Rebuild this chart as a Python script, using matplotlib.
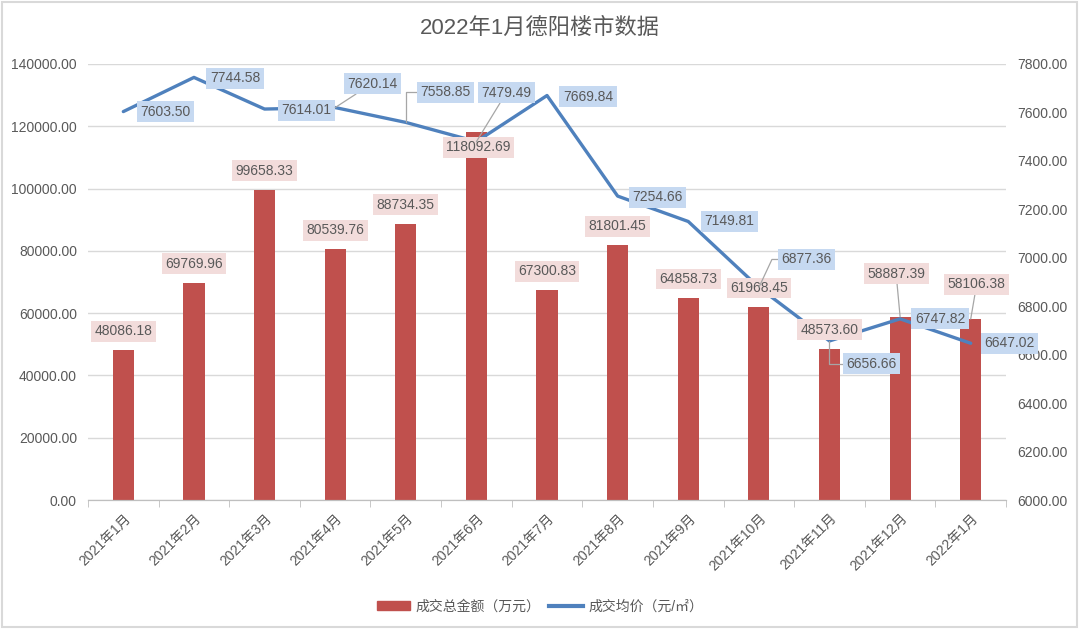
import matplotlib
matplotlib.use('Agg')
import matplotlib.pyplot as plt
from matplotlib.patches import Rectangle
from matplotlib.lines import Line2D
from matplotlib.ticker import FormatStrFormatter, MultipleLocator, FixedLocator

plt.rcParams['font.family'] = ['Liberation Sans', 'Noto Sans CJK SC', 'DejaVu Sans']

# data
months = ['2021年1月', '2021年2月', '2021年3月', '2021年4月', '2021年5月', '2021年6月',
          '2021年7月', '2021年8月', '2021年9月', '2021年10月', '2021年11月', '2021年12月',
          '2022年1月']
total_amount = [48086.18, 69769.96, 99658.33, 80539.76, 88734.35, 118092.69, 67300.83,
                81801.45, 64858.73, 61968.45, 48573.60, 58887.39, 58106.38]
avg_price = [7603.50, 7744.58, 7614.01, 7620.14, 7558.85, 7479.49, 7669.84,
             7254.66, 7149.81, 6877.36, 6656.66, 6747.82, 6647.02]

# label placement (pixel offsets from the point, y up)
bar_label_off = [(0, 19)] * 13
bar_label_off[5] = (2, -15)
bar_label_off[11] = (-4, 43)
bar_label_off[12] = (6, 35)
bar_leader = {11: 'arc3', 12: 'arc3'}

line_label_off = [(42, 0), (41, -1), (42, -1), (37, 24), (40, 30), (30, 49), (41, -1),
                  (40, -1), (41, 0), (48, 28), (42, -23), (40, 0), (39, 0)]
line_leader = {3: 'arc3', 4: 'angle,angleA=0,angleB=90,rad=0', 5: 'arc3',
               9: 'angle,angleA=0,angleB=65,rad=0', 10: 'angle,angleA=0,angleB=90,rad=0'}

BAR_C = '#C0504D'
LINE_C = '#4F81BD'
TXT_C = '#595959'
GRID_C = '#D9D9D9'

fig = plt.figure(figsize=(10.8, 6.31), dpi=100)
fig.patches.append(Rectangle((0.002, 0.006), 0.995, 0.991, transform=fig.transFigure,
                             fill=False, edgecolor=GRID_C, linewidth=1.5))

ax1 = fig.add_axes([0.0815, 0.2076, 0.85, 0.691])
ax2 = ax1.twinx()

x = list(range(len(months)))
ax1.bar(x, total_amount, width=0.3, color=BAR_C, zorder=2)
ax2.plot(x, avg_price, color=LINE_C, linewidth=2.4, solid_joinstyle='round',
         solid_capstyle='round', zorder=3)

ax1.set_xlim(-0.5, len(months) - 0.5)
ax1.set_ylim(0, 140000)
ax2.set_ylim(6000, 7800)
ax1.yaxis.set_major_locator(MultipleLocator(20000))
ax2.yaxis.set_major_locator(MultipleLocator(200))
ax1.yaxis.set_major_formatter(FormatStrFormatter('%.2f'))
ax2.yaxis.set_major_formatter(FormatStrFormatter('%.2f'))
ax1.grid(axis='y', color=GRID_C, linewidth=1)
ax1.set_axisbelow(True)

for ax in (ax1, ax2):
    for s in ('top', 'left', 'right'):
        ax.spines[s].set_visible(False)
    ax.spines['bottom'].set_color('#BFBFBF')
    ax.tick_params(axis='y', length=0, labelsize=10, labelcolor=TXT_C, pad=8)

ax1.set_xticks(x)
ax1.set_xticklabels(months, rotation=45, ha='right', rotation_mode='anchor',
                    fontsize=10, color=TXT_C)
ax1.tick_params(axis='x', which='major', length=0, pad=8)
ax1.xaxis.set_minor_locator(FixedLocator([i - 0.5 for i in range(len(months) + 1)]))
ax1.tick_params(axis='x', which='minor', length=5, color='#BFBFBF')

# bar labels (drawn on ax2 so they sit above the line)
for i, v in enumerate(total_amount):
    props = None
    if i in bar_leader:
        props = dict(arrowstyle='-', color='#A6A6A6', lw=0.9, shrinkA=0, shrinkB=0,
                     connectionstyle=bar_leader[i])
    ax2.annotate(f'{v:.2f}', xy=(i, v), xycoords=ax1.transData,
                 xytext=bar_label_off[i], textcoords='offset pixels',
                 ha='center', va='center', fontsize=10, color=TXT_C, zorder=4,
                 bbox=dict(boxstyle='square,pad=0.25', fc='#F2DCDB', ec='none'),
                 arrowprops=props)

# line labels
for i, v in enumerate(avg_price):
    props = None
    if i in line_leader:
        props = dict(arrowstyle='-', color='#A6A6A6', lw=0.9, shrinkA=0, shrinkB=0,
                     connectionstyle=line_leader[i])
    ax2.annotate(f'{v:.2f}', xy=(i, v), xytext=line_label_off[i], textcoords='offset pixels',
                 ha='center', va='center', fontsize=10, color=TXT_C, zorder=5,
                 bbox=dict(boxstyle='square,pad=0.25', fc='#C6D9F1', ec='none'),
                 arrowprops=props)

fig.text(0.5, 0.955, '2022年1月德阳楼市数据', ha='center', va='center',
         fontsize=16, color=TXT_C)

handles = [Rectangle((0, 0), 1, 1, color=BAR_C),
           Line2D([], [], color=LINE_C, linewidth=3)]
fig.legend(handles, ['成交总金额（万元）', '成交均价（元/㎡）'], loc='center',
           bbox_to_anchor=(0.5, 0.039), ncol=2, frameon=False, fontsize=10,
           labelcolor=TXT_C, handlelength=2.4, handletextpad=0.4, columnspacing=0.6)

fig.savefig('out.png', dpi=100)
